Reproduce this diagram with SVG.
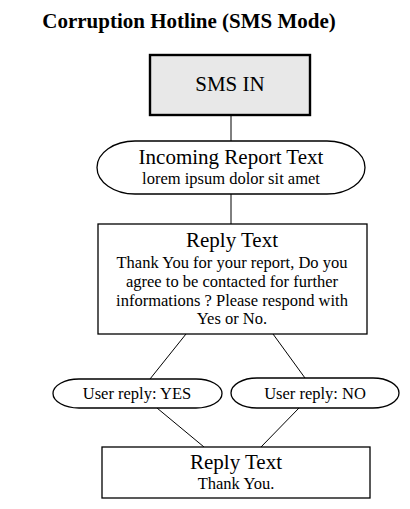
<svg xmlns="http://www.w3.org/2000/svg" width="410" height="509" viewBox="0 0 410 509">
<style>
text{font-family:"Liberation Serif","Times New Roman",serif;fill:#000;text-anchor:middle}
.title{font-weight:bold;font-size:21px}
.h{font-size:21px}
.b{font-size:16.5px}
.box{fill:#fff;stroke:#000;stroke-width:1.3}
.conn line{stroke:#000;stroke-width:1}
</style>
<rect width="410" height="509" fill="#fff"/>
<text class="title" x="189" y="28">Corruption Hotline (SMS Mode)</text>
<g class="conn" id="connectors">
<line x1="231" y1="115" x2="231" y2="141"/>
<line x1="231" y1="194" x2="231" y2="224"/>
<line x1="186" y1="334" x2="150" y2="379"/>
<line x1="273" y1="334" x2="305" y2="378"/>
<line x1="157" y1="408" x2="204" y2="447"/>
<line x1="299" y1="408" x2="261" y2="447"/>
</g>
<g id="sms-in">
<rect x="150" y="55" width="160" height="60" fill="#e8e8e8" stroke="#000" stroke-width="2.4"/>
<text class="h" x="230" y="91">SMS IN</text>
</g>
<g id="incoming">
<rect class="box" x="97" y="141" width="268" height="53" rx="38" ry="26.5"/>
<text class="h" x="231" y="164">Incoming Report Text</text>
<text class="b" x="231" y="184">lorem ipsum dolor sit amet</text>
</g>
<g id="reply1">
<rect class="box" x="98" y="224" width="269" height="110"/>
<text class="h" x="232" y="247">Reply Text</text>
<text class="b" x="232" y="268">Thank You for your report, Do you</text>
<text class="b" x="232" y="287">agree to be contacted for further</text>
<text class="b" x="232" y="306">informations ? Please respond with</text>
<text class="b" x="232" y="324">Yes or No.</text>
</g>
<g id="yes">
<rect class="box" x="53" y="379" width="169" height="29" rx="26" ry="14.5"/>
<text class="b" x="137" y="399">User reply: YES</text>
</g>
<g id="no">
<rect class="box" x="231" y="378" width="168" height="30" rx="26" ry="15"/>
<text class="b" x="315" y="399">User reply: NO</text>
</g>
<g id="reply2">
<rect class="box" x="102" y="447" width="268" height="51"/>
<text class="h" x="236" y="469">Reply Text</text>
<text class="b" x="236" y="489">Thank You.</text>
</g>
</svg>
